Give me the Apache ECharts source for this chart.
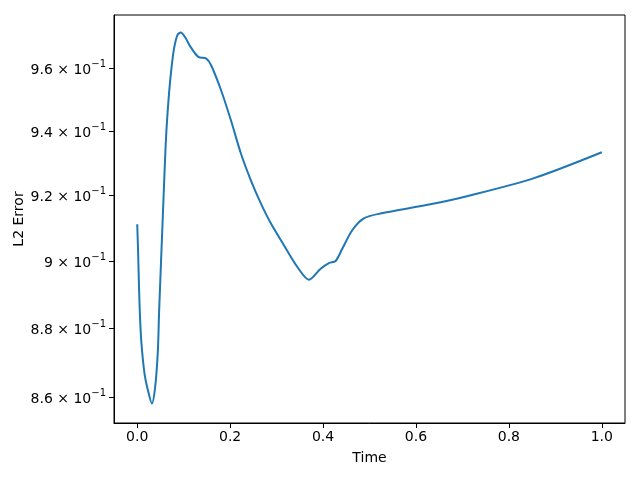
<!DOCTYPE html>
<html><head><meta charset="utf-8">
<script src="https://cdn.jsdelivr.net/npm/echarts@6/dist/echarts.min.js"></script>
<style>html,body{margin:0;padding:0;background:#fff}#c{width:640px;height:480px}</style>
</head><body><div id="c"></div>
<script>
const timeValues = [0.0, 0.002, 0.0049, 0.0086, 0.0157, 0.023, 0.0315, 0.0386, 0.0444, 0.0472, 0.0556, 0.0594, 0.0629, 0.0687, 0.0745, 0.0794, 0.0865, 0.0938, 0.1045, 0.1144, 0.1315, 0.148, 0.1588, 0.1803, 0.2017, 0.2232, 0.2446, 0.2661, 0.2876, 0.3161, 0.3448, 0.3697, 0.3948, 0.4127, 0.427, 0.4414, 0.4629, 0.4878, 0.5236, 0.6309, 0.7097, 0.8526, 1.0];
const errorValues = [0.9112, 0.9023, 0.8874, 0.8766, 0.8669, 0.8621, 0.8583, 0.8630, 0.8735, 0.8854, 0.9155, 0.9294, 0.9403, 0.9524, 0.9610, 0.9664, 0.9706, 0.9715, 0.9696, 0.9669, 0.9636, 0.9631, 0.9610, 0.9530, 0.9434, 0.9330, 0.9247, 0.9176, 0.9115, 0.9048, 0.8983, 0.8945, 0.8978, 0.8995, 0.9001, 0.9038, 0.9094, 0.9130, 0.9145, 0.9173, 0.9198, 0.9253, 0.9334];
const xTicks = [0.0, 0.2, 0.4, 0.6, 0.8, 1.0];
const yTickValues = [0.86, 0.88, 0.90, 0.92, 0.94, 0.96];
const yTickMantissas = ['8.6', '8.8', '9', '9.2', '9.4', '9.6'];

const lg = v => Math.log10(v);
const yTickPos = yTickValues.map(lg);
const data = timeValues.map((t, i) => [t, lg(errorValues[i])]);
const font = 'DejaVu Sans';

const chart = echarts.init(document.getElementById('c'), null, {renderer: 'canvas'});
chart.setOption({
  animation: false,
  backgroundColor: '#fff',
  grid: {left: 114, right: 15, top: 15, bottom: 57, outerBoundsMode: 'none', containLabel: false, show: true, borderColor: '#000', borderWidth: 1, backgroundColor: 'transparent'},
  xAxis: {
    type: 'value', min: -0.05, max: 1.05,
    name: 'Time', nameLocation: 'middle', nameGap: 28, nameMoveOverlap: false,
    nameTextStyle: {fontFamily: font, fontSize: 14, color: '#000'},
    axisLine: {show: true, onZero: false, lineStyle: {color: '#000', width: 1}},
    axisTick: {show: true, inside: false, length: 5, lineStyle: {color: '#000'}, customValues: xTicks},
    axisLabel: {customValues: xTicks, margin: 7, fontFamily: font, fontSize: 14, color: '#000', formatter: v => v.toFixed(1)},
    splitLine: {show: false}
  },
  yAxis: {
    type: 'value', min: lg(0.85271), max: lg(0.97717),
    name: 'L2 Error', nameLocation: 'middle', nameGap: 88, nameRotate: 90, nameMoveOverlap: false,
    nameTextStyle: {fontFamily: font, fontSize: 14, color: '#000'},
    axisLine: {show: true, onZero: false, lineStyle: {color: '#000', width: 1}},
    axisTick: {show: true, inside: false, length: 5, lineStyle: {color: '#000'}, customValues: yTickPos},
    axisLabel: {
      customValues: yTickPos, margin: 8, fontFamily: font, fontSize: 14, color: '#000',
      formatter: v => {
        let idx = 0, best = 1e9;
        yTickPos.forEach((p, i) => { if (Math.abs(p - v) < best) { best = Math.abs(p - v); idx = i; } });
        return '{m|' + yTickMantissas[idx] + ' × 10}{s|−1}';
      },
      rich: {
        m: {fontFamily: font, fontSize: 14, color: '#000', verticalAlign: 'bottom', lineHeight: 18},
        s: {fontFamily: font, fontSize: 10, color: '#000', verticalAlign: 'top', lineHeight: 18, padding: [0, 0, 6, 0]}
      }
    },
    splitLine: {show: false}
  },
  series: [{
    type: 'line', data: data, smooth: 0.3, showSymbol: false,
    lineStyle: {color: '#1f77b4', width: 2}
  }]
});
</script></body></html>
